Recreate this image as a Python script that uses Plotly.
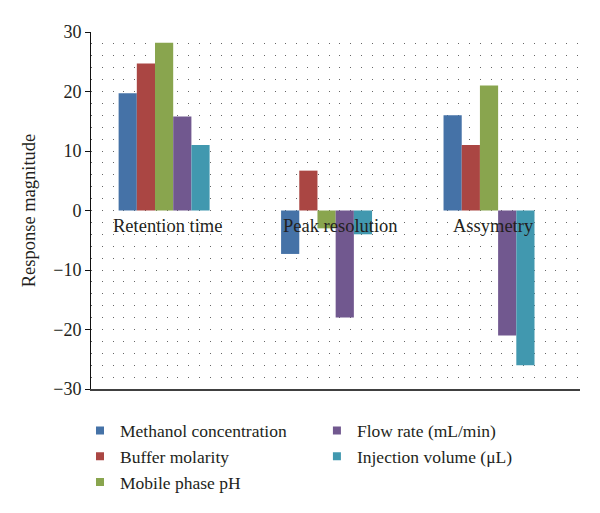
import plotly.graph_objects as go

categories = ["Retention time", "Peak resolution", "Assymetry"]
series_names = ["Methanol concentration", "Buffer molarity", "Mobile phase pH",
                "Flow rate (mL/min)", "Injection volume (\u03bcL)"]
methanol = [19.7, -7.3, 16.0]
buffer = [24.7, 6.7, 11.0]
ph = [28.2, -3.0, 21.0]
flow = [15.8, -18.0, -21.0]
injection = [11.0, -4.0, -26.0]
values = [methanol, buffer, ph, flow, injection]
colors = ["#4572A7", "#AA4643", "#89A54E", "#71588F", "#4198AF"]
legend_ids = ["legend", "legend", "legend", "legend2", "legend2"]
label_shift = [3, 14, 4]

FONT = "Liberation Serif"
TXT = "#231f20"

fig = go.Figure()
for name, vals, col in zip(series_names, values, colors):
    fig.add_trace(go.Bar(x=categories, y=vals, name=name, marker=dict(color=col, line=dict(width=0)),
                         showlegend=False))
# legend entries (small square markers)
for name, col, lg in zip(series_names, colors, legend_ids):
    fig.add_trace(go.Scatter(x=[None], y=[None], mode="markers", name=name,
                             marker=dict(symbol="square", size=8, color=col),
                             legend=lg, showlegend=True))

for cat, sh in zip(categories, label_shift):
    fig.add_annotation(x=cat, y=0, xref="x", yref="y", text=cat, showarrow=False,
                       yanchor="top", xanchor="center", yshift=-3, xshift=sh,
                       font=dict(family=FONT, size=18.5, color=TXT))

dot = "1px,9.8px"
fig.update_layout(
    template="none",
    width=600, height=513,
    margin=dict(l=91, r=20, t=32, b=124),
    paper_bgcolor="white", plot_bgcolor="white",
    barmode="group", bargap=0.44, bargroupgap=0,
    font=dict(family=FONT, size=18, color=TXT),
    xaxis=dict(range=[-0.45, 2.56], showticklabels=False, ticks="", showgrid=False, automargin=False,
               showline=True, linecolor="#404040", linewidth=2, zeroline=False, fixedrange=True),
    yaxis=dict(range=[-30, 30], dtick=10, tick0=0, showline=True, linecolor="#111", linewidth=1,
               automargin=False,
               ticks="outside", ticklen=5, tickcolor="#111", tickwidth=1,
               showgrid=True, gridcolor="#666", gridwidth=1, griddash=dot,
               minor=dict(dtick=2, showgrid=True, gridcolor="#666", gridwidth=1, griddash=dot, ticks=""),
               zeroline=False,
               title=dict(text="Response magnitude", font=dict(family=FONT, size=18.5, color=TXT), standoff=12),
               tickfont=dict(family=FONT, size=18, color=TXT)),
    legend=dict(x=-0.0225, y=-0.066, xanchor="left", yanchor="top", orientation="v",
                bgcolor="rgba(0,0,0,0)", font=dict(family=FONT, size=17.5, color=TXT), tracegroupgap=0),
    legend2=dict(x=0.462, y=-0.066, xanchor="left", yanchor="top", orientation="v",
                 bgcolor="rgba(0,0,0,0)", font=dict(family=FONT, size=17.5, color=TXT), tracegroupgap=0),
)

fig.write_html("out.html", config={"displayModeBar": False},
               post_script="document.body.style.margin='0';document.body.style.overflow='hidden';")
